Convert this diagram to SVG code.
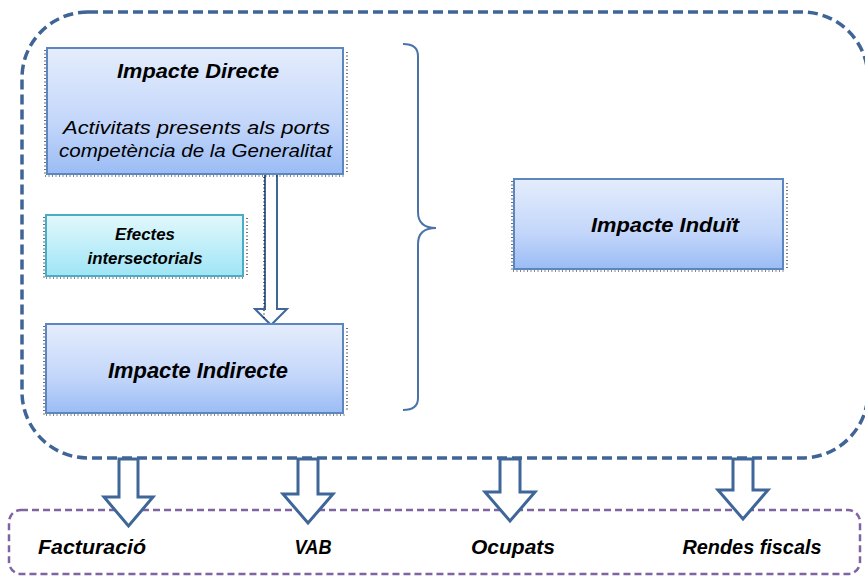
<svg xmlns="http://www.w3.org/2000/svg" width="865" height="577" viewBox="0 0 865 577">
<defs>
<linearGradient id="gBlue" x1="0" y1="0" x2="0" y2="1">
<stop offset="0" stop-color="#E4EDFC"/><stop offset="0.6" stop-color="#C3D6FA"/><stop offset="1" stop-color="#9ABCF5"/>
</linearGradient>
<linearGradient id="gCyan" x1="0" y1="0" x2="0" y2="1">
<stop offset="0" stop-color="#E2F8FC"/><stop offset="1" stop-color="#9FE5F6"/>
</linearGradient>
<style>
.box{fill:url(#gBlue);stroke:#5B86C0;stroke-width:2}
.cbox{fill:url(#gCyan);stroke:#4BACC6;stroke-width:2}
.dots{fill:none;stroke:#111;stroke-width:1.2;stroke-dasharray:1 2.5}
.t{font-family:"Liberation Sans",Arial,sans-serif;font-style:italic;fill:#000}
.b{font-weight:bold}
.arr{fill:#fff;stroke:#3E6699;stroke-width:3;stroke-linejoin:miter}
</style>
</defs>
<g id="outer">
<rect x="22" y="12" width="846" height="446" rx="66" ry="66" fill="none" stroke="#3F6496" stroke-width="3.5" stroke-dasharray="10 5"/>
</g>
<g id="results">
<rect x="9" y="510" width="851" height="64" rx="12" fill="none" stroke="#8064A2" stroke-width="2.5" stroke-dasharray="7 4"/>
</g>
<g id="connectors">
<path class="arr" d="M119,459 H138 V497 H153 L128.5,526 L104,497 H119 Z"/>
<path class="arr" d="M298,459 H318 V494 H333 L308,523 L283,494 H298 Z"/>
<path class="arr" d="M500,459 H520 V492 H535 L510,521 L485,492 H500 Z"/>
<path class="arr" d="M733,459 H753 V490 H768 L743,519 L718,490 H733 Z"/>
<path d="M265,166 H277 V309 H287 L271,325 L255,309 H265 Z" fill="#fff" stroke="#3E6699" stroke-width="2"/>
<path d="M264,170 V318" class="dots"/>
<path d="M403,44 Q418,44 418,56 V212 Q418,228 436,228 Q418,228 418,244 V398 Q418,410 403,410" fill="none" stroke="#4A73A8" stroke-width="2"/>
</g>
<g id="impacte-directe">
<path class="dots" d="M45,50 V176 H345 M347,52 V174"/>
<rect class="box" x="47" y="48" width="296" height="126"/>
<text class="t b" x="198" y="78" font-size="21" text-anchor="middle" textLength="162" lengthAdjust="spacingAndGlyphs">Impacte Directe</text>
<text class="t" x="63" y="134" font-size="19" textLength="267" lengthAdjust="spacingAndGlyphs">Activitats presents  als  ports</text>
<text class="t" x="59" y="157" font-size="19" textLength="273" lengthAdjust="spacingAndGlyphs">competència de la Generalitat</text>
</g>
<g id="efectes">
<path class="dots" d="M44,217 V278 H245 M247,218 V276"/>
<rect class="cbox" x="46" y="215" width="197" height="61"/>
<text class="t b" x="145" y="240" font-size="17" text-anchor="middle" textLength="60" lengthAdjust="spacingAndGlyphs">Efectes</text>
<text class="t b" x="145" y="264" font-size="17" text-anchor="middle" textLength="115" lengthAdjust="spacingAndGlyphs">intersectorials</text>
</g>
<g id="impacte-indirecte">
<path class="dots" d="M44,326 V415 H345 M347,328 V412"/>
<rect class="box" x="46" y="324" width="297" height="89"/>
<text class="t b" x="198" y="378" font-size="22" text-anchor="middle" textLength="180" lengthAdjust="spacingAndGlyphs">Impacte Indirecte</text>
</g>
<g id="impacte-induit">
<path class="dots" d="M512,181 V271 H785 M787,183 V268"/>
<rect class="box" x="514" y="179" width="269" height="90"/>
<text class="t b" x="665" y="232" font-size="21" text-anchor="middle" textLength="148" lengthAdjust="spacingAndGlyphs">Impacte Induït</text>
</g>
<g id="labels">
<text class="t b" x="92" y="554" font-size="21" text-anchor="middle" textLength="108" lengthAdjust="spacingAndGlyphs">Facturació</text>
<text class="t b" x="313" y="554" font-size="20" text-anchor="middle" textLength="37" lengthAdjust="spacingAndGlyphs">VAB</text>
<text class="t b" x="513" y="554" font-size="21" text-anchor="middle" textLength="84" lengthAdjust="spacingAndGlyphs">Ocupats</text>
<text class="t b" x="752" y="554" font-size="21" text-anchor="middle" textLength="139" lengthAdjust="spacingAndGlyphs">Rendes fiscals</text>
</g>
</svg>
